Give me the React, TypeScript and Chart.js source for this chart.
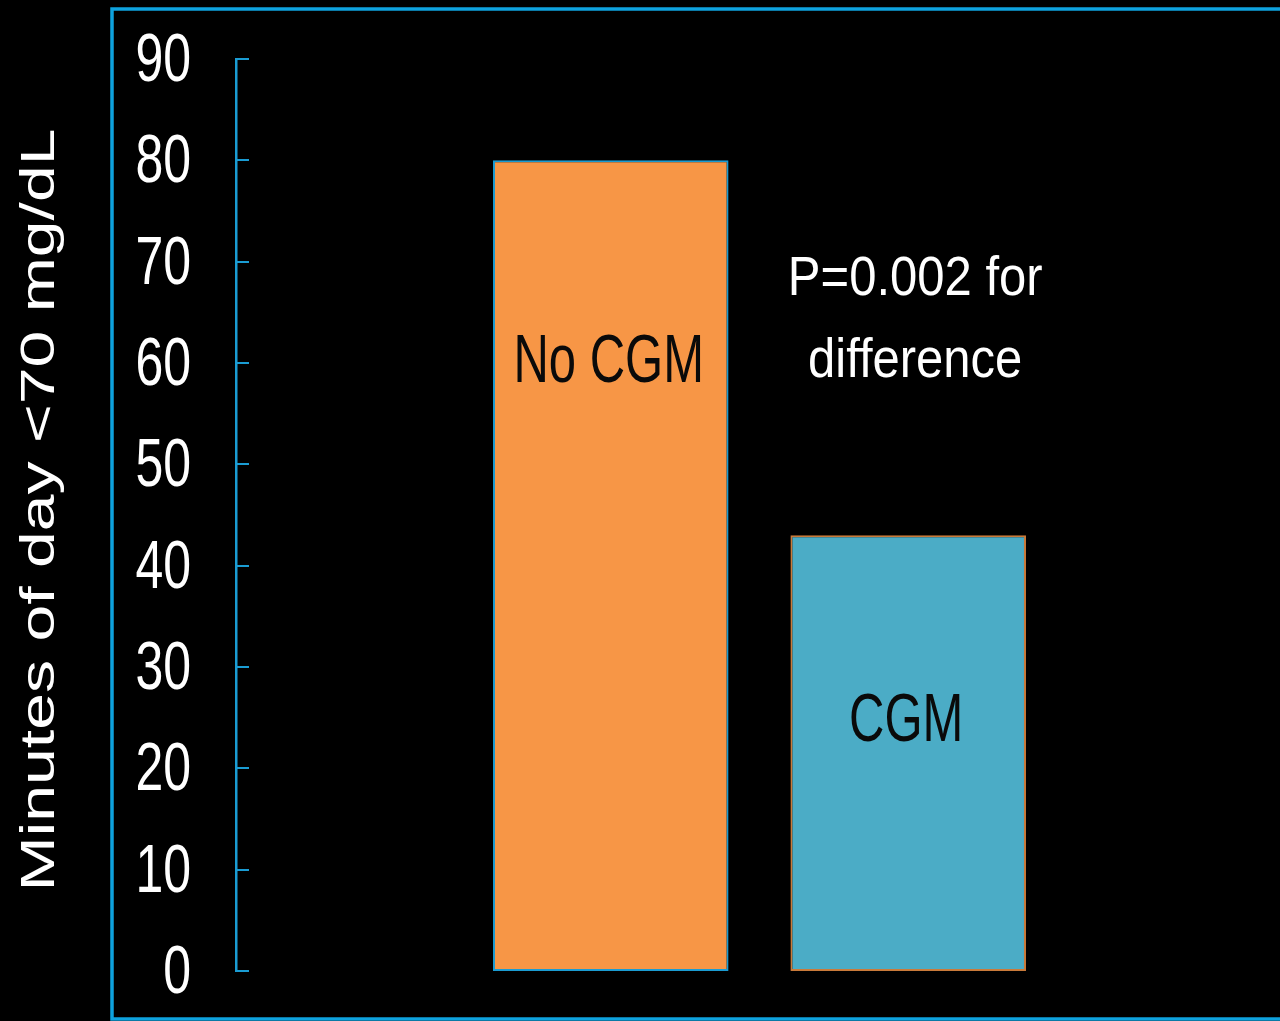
import React, { useEffect, useRef } from "react";
import { Chart, registerables } from "chart.js";

Chart.register(...registerables);

const categories = ["No CGM", "CGM"];
const minutesBelow70 = [80, 43];
const barColors = ["#F79646", "#4BACC6"];
const barBorderColors = ["#1B9BD1", "#C97A3A"];
const yTicks = [0, 10, 20, 30, 40, 50, 60, 70, 80, 90];
const yAxisTitle = "Minutes of day <70 mg/dL";
const pValueLines = ["P=0.002 for", "difference"];

const FONT = '"Liberation Sans", Arial, sans-serif';
const AXIS_BLUE = "#1A9CD3";

function drawScaledText(
  ctx: CanvasRenderingContext2D,
  text: string,
  x: number,
  y: number,
  size: number,
  sx: number,
  sy: number,
  align: CanvasTextAlign,
  color: string,
  rotate = 0
) {
  ctx.save();
  ctx.translate(x, y);
  if (rotate) ctx.rotate(rotate);
  ctx.scale(sx, sy);
  ctx.font = `${size}px ${FONT}`;
  ctx.textAlign = align;
  ctx.textBaseline = "alphabetic";
  ctx.fillStyle = color;
  ctx.fillText(text, 0, 0);
  ctx.restore();
}

const overlayPlugin = {
  id: "overlay",
  beforeDraw(chart: any) {
    const ctx = chart.ctx;
    ctx.save();
    ctx.fillStyle = "#000";
    ctx.fillRect(0, 0, chart.width, chart.height);
    ctx.strokeStyle = "#0EA2DE";
    ctx.lineWidth = 3.5;
    ctx.strokeRect(112, 9, chart.width + 50, 1010);
    ctx.restore();
  },
  afterDraw(chart: any) {
    const ctx = chart.ctx;
    const y = chart.scales.y;
    const x = chart.scales.x;
    const area = chart.chartArea;
    ctx.save();
    // inward tick marks + tick labels
    ctx.strokeStyle = AXIS_BLUE;
    ctx.lineWidth = 2;
    y.ticks.forEach((t: any) => {
      const py = Math.round(y.getPixelForValue(t.value));
      ctx.beginPath();
      ctx.moveTo(area.left, py);
      ctx.lineTo(area.left + 13, py);
      ctx.stroke();
      drawScaledText(ctx, String(t.value), area.left - 45, py + 22, 50, 1, 1.36, "right", "#ffffff");
    });
    // axis title (rotated)
    drawScaledText(ctx, yAxisTitle, 54, (area.top + area.bottom) / 2 - 5, 49, 1.35, 1, "center", "#ffffff", -Math.PI / 2);
    // bar labels
    const labelBaselines = [58.1, 22.7];
    categories.forEach((c, i) => {
      drawScaledText(ctx, c, x.getPixelForValue(i + 1) - 2, y.getPixelForValue(labelBaselines[i]), 49, 1, 1.38, "center", "#0a0a0a");
    });
    // p-value annotation
    const px = x.getPixelForValue(2) + 7;
    drawScaledText(ctx, pValueLines[0], px, y.getPixelForValue(66.7), 49, 1, 1.14, "center", "#ffffff");
    drawScaledText(ctx, pValueLines[1], px, y.getPixelForValue(58.6), 49, 1, 1.14, "center", "#ffffff");
    ctx.restore();
  },
};

export default function App() {
  const canvasRef = useRef<HTMLCanvasElement | null>(null);

  useEffect(() => {
    if (!canvasRef.current) return;
    const chart = new Chart(canvasRef.current, {
      type: "bar",
      data: {
        datasets: [
          {
            label: "Minutes below 70 mg/dL",
            data: categories.map((c, i) => ({ x: i + 1, y: minutesBelow70[i] })),
            backgroundColor: barColors,
            borderColor: barBorderColors,
            borderWidth: 2,
            borderSkipped: false,
            categoryPercentage: 1,
            barPercentage: 0.792,
          },
        ],
      },
      options: {
        animation: false,
        responsive: true,
        maintainAspectRatio: false,
        layout: { padding: { top: 59, bottom: 50, left: 0, right: 0 } },
        plugins: {
          legend: { display: false },
          tooltip: { enabled: false },
        },
        scales: {
          x: {
            type: "linear",
            display: false,
            min: -0.26,
            max: 3.25,
            offset: false,
            afterBuildTicks(scale: any) {
              scale.ticks = categories.map((c, i) => ({ value: i + 1 }));
            },
          },
          y: {
            min: 0,
            max: 90,
            afterFit(scale: any) {
              scale.width = 236;
            },
            afterBuildTicks(scale: any) {
              scale.ticks = yTicks.map((v) => ({ value: v }));
            },
            border: { display: true, color: AXIS_BLUE, width: 2.5 },
            grid: { display: false },
            ticks: { display: false },
            title: { display: false },
          },
        },
      },
      plugins: [overlayPlugin],
    });
    return () => chart.destroy();
  }, []);

  return (
    <div
      style={{
        position: "fixed",
        left: 0,
        top: 0,
        width: 1280,
        height: 1021,
        background: "#000",
      }}
    >
      <canvas ref={canvasRef} />
    </div>
  );
}
